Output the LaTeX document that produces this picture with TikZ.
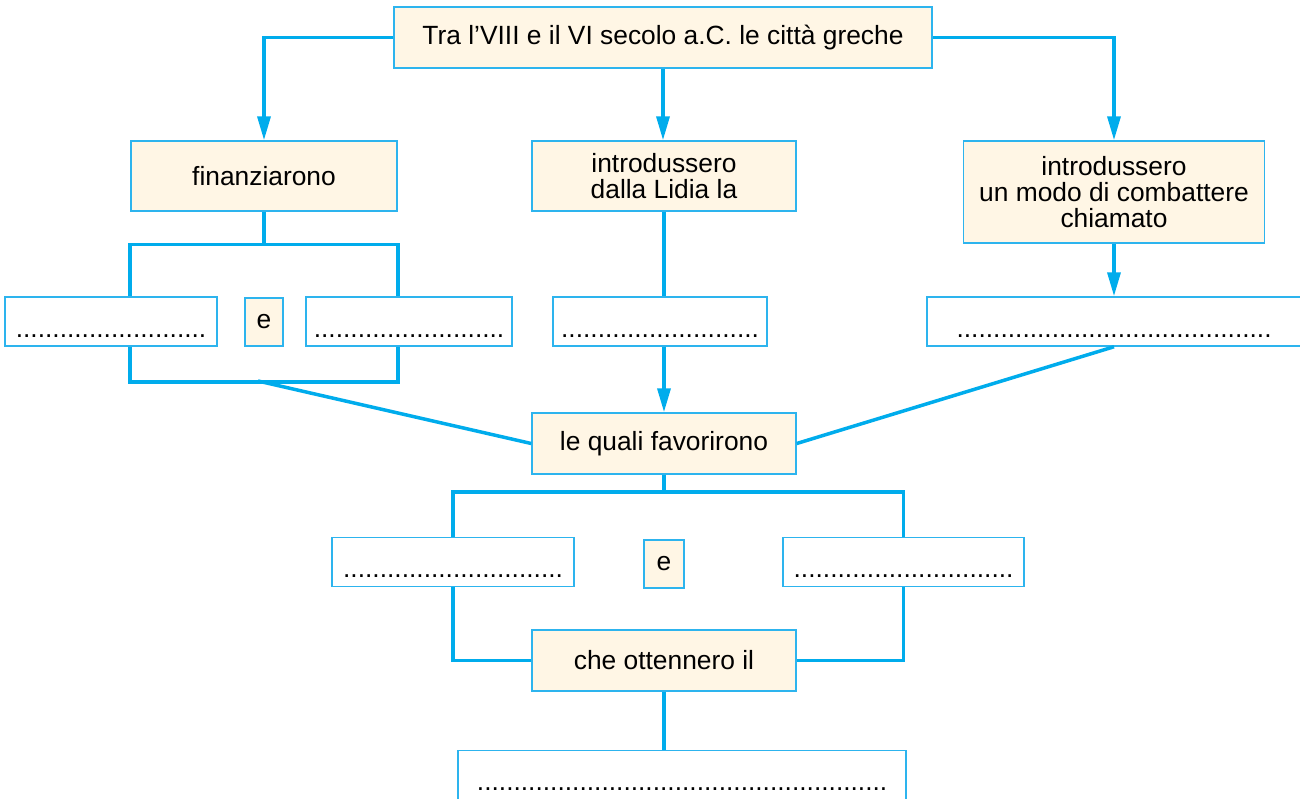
\documentclass[tikz,border=0pt]{standalone}
\usepackage{fontspec}
\setmainfont{Liberation Sans}
\usepackage{xcolor}
\usetikzlibrary{arrows.meta,positioning,calc}

\definecolor{linkblue}{RGB}{0,172,236}
\definecolor{boxblue}{RGB}{45,180,238}
\definecolor{cream}{RGB}{255,246,229}

\begin{document}
\begin{tikzpicture}[x=0.2mm, y=-0.2mm,
  font=\fontsize{15}{15}\selectfont,
  box/.style={draw=boxblue, line width=0.3mm, fill=cream, align=center, inner sep=0pt},
  blank/.style={draw=boxblue, line width=0.3mm, fill=white, inner sep=0pt, text height=8mm, text depth=1.8mm},
  link/.style={draw=linkblue, line width=0.7mm},
  linkarrow/.style={link, -{Triangle[length=4.8mm, width=2.6mm]}}]

\useasboundingbox (0,0) rectangle (1300,799);

% Question on top
\node[box, minimum width=107.6mm, minimum height=12.2mm] (top) at (663,37.5) {Tra l’VIII e il VI secolo a.C. le città greche};

% Three verbs
\node[box, minimum width=53.2mm, minimum height=14mm] (fin) at (264,176) {finanziarono};
\node[box, minimum width=52.8mm, minimum height=14mm] (lidia) at (664,176) {introdussero\\dalla Lidia la};
\node[box, minimum width=60.2mm, minimum height=20.4mm] (combat) at (1114,192) {introdussero\\un modo di combattere\\chiamato};

% Blanks of the first row
\node[blank, minimum width=42.4mm] (blankA) at (111,321.5) {..........................};
\node[box, minimum width=7.6mm, minimum height=9.6mm] (andA) at (264,322) {e};
\node[blank, minimum width=41.2mm] (blankB) at (409,321.5) {..........................};
\node[blank, minimum width=42.8mm] (blankC) at (660,321.5) {...........................};
\node[blank, minimum width=74.8mm] (blankD) at (1114,321.5) {...........................................};

% Middle and bottom
\node[box, minimum width=52.8mm, minimum height=12.2mm] (favor) at (664,443.5) {le quali favorirono};
\node[blank, minimum width=48.4mm] (blankE) at (453,562) {..............................};
\node[box, minimum width=8mm, minimum height=9.6mm] (andB) at (664,564) {e};
\node[blank, minimum width=48.2mm] (blankF) at (903.5,562) {..............................};
\node[box, minimum width=52.8mm, minimum height=12.2mm] (obtain) at (664,660.5) {che ottennero il};
\node[blank, minimum width=89.6mm] (blankG) at (682,775) {........................................................};

% From the question to the three verbs
\draw[linkarrow] (top.west) -| (fin.north);
\draw[linkarrow] (top.south) -- (top.south |- lidia.north);
\draw[linkarrow] (top.east) -| (combat.north);

% Brackets round the first two blanks
\draw[link] (fin.south) -- ++(0,34);
\draw[link] (blankA.north -| fin.west) -- ++(0,-52) -| (blankB.north -| fin.east);
\draw[link] (blankA.south -| fin.west) -- ++(0,35) -| (blankB.south -| fin.east);
\coordinate (finlow) at (258,381);
\draw[link] (finlow) -- (favor.west);

% Middle column
\draw[link] (lidia.south) -- (lidia.south |- blankC.north);
\draw[linkarrow] (lidia.south |- blankC.south) -- (favor.north);

% Right column
\draw[linkarrow] (combat.south) -- (blankD.north);
\draw[link] (blankD.south) -- (favor.east);

% What they favoured and obtained
\draw[link] (favor.south) -- ++(0,19);
\draw[link] (blankE.north) -- ++(0,-45) -| (blankF.north);
\draw[link] (blankE.south) |- (obtain.west);
\draw[link] (blankF.south) |- (obtain.east);
\draw[link] (obtain.south) -- (obtain.south |- blankG.north);

\end{tikzpicture}
\end{document}
